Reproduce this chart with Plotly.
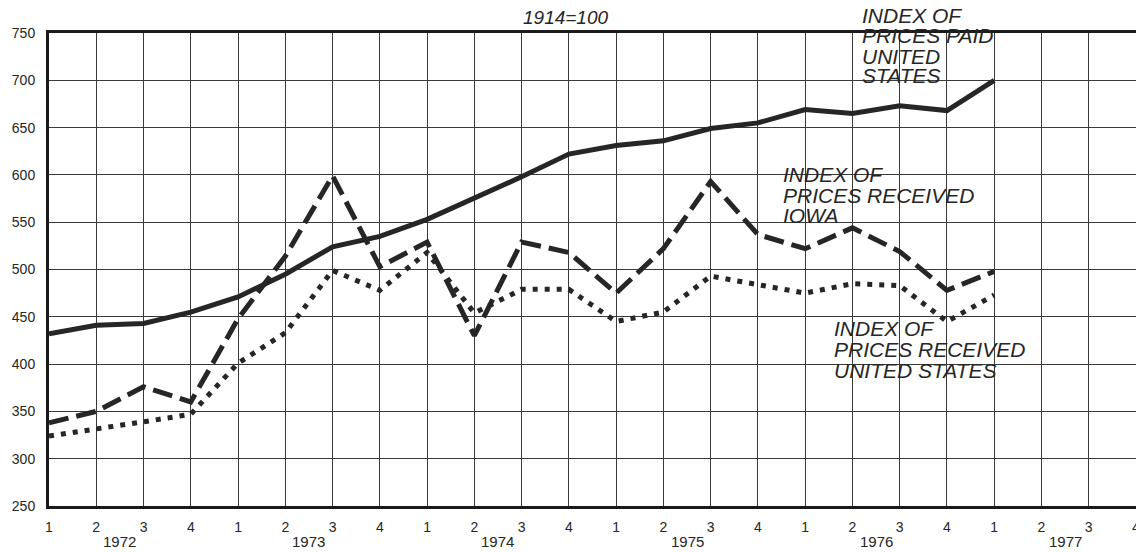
import plotly.graph_objects as go

# ---- data ----
years = ["1972", "1973", "1974", "1975", "1976", "1977"]
quarter_labels = ["1", "2", "3", "4"]
periods = [f"{y} Q{q}" for y in years for q in quarter_labels]  # 24 quarters on the axis

paid_us = [432, 441, 443, 455, 471, 495, 524, 535, 553, 575, 598, 622,
           631, 636, 649, 655, 669, 665, 673, 668, 700]
received_iowa = [338, 350, 376, 360, 448, 514, 599, 503, 529, 430, 529, 518,
                 475, 522, 593, 537, 522, 544, 519, 478, 498]
received_us = [324, 331, 339, 347, 401, 433, 499, 478, 518, 454, 479, 479,
               445, 455, 493, 484, 475, 485, 483, 445, 473]

y_ticks = [250, 300, 350, 400, 450, 500, 550, 600, 650, 700, 750]

INK = "#262626"
FONT = "Liberation Sans, Arial, sans-serif"

# page has an 8px body margin, so the figure is drawn 8px smaller
PLOT_L, PLOT_T, PLOT_W, PLOT_H = 46, 33, 1094, 473   # plot box in page pixels

fig = go.Figure()
fig.add_trace(go.Scatter(x=periods[:len(paid_us)], y=paid_us, mode="lines",
                         line=dict(color=INK, width=5), name="Index of prices paid, United States"))
fig.add_trace(go.Scatter(x=periods[:len(received_iowa)], y=received_iowa, mode="lines",
                         line=dict(color=INK, width=5, dash="20px,8px"), name="Index of prices received, Iowa"))
fig.add_trace(go.Scatter(x=periods[:len(received_us)], y=received_us, mode="lines",
                         line=dict(color=INK, width=5, dash="5px,7px"), name="Index of prices received, United States"))

annotations = []
# year labels under the quarter ticks
for i, yr in enumerate(years):
    annotations.append(dict(x=i * 4 + 1.5, y=-(541 - 506) / PLOT_H, xref="x", yref="paper", text=yr,
                            showarrow=False, xanchor="center", yanchor="middle",
                            font=dict(family=FONT, size=15, color=INK)))

# title note
annotations.append(dict(x=(566 - PLOT_L) / PLOT_W, y=(506 - 17) / PLOT_H, xref="paper", yref="paper",
                        text="1914=100", showarrow=False, xanchor="center", yanchor="middle",
                        font=dict(family=FONT, size=19, color=INK, style="italic")))

def label_lines(lines, x_px, centers_px):
    for txt, cy in zip(lines, centers_px):
        annotations.append(dict(x=(x_px - PLOT_L) / PLOT_W, y=(506 - cy) / PLOT_H, xref="paper", yref="paper",
                                text=txt, showarrow=False, xanchor="left", yanchor="middle",
                                font=dict(family=FONT, size=21, color=INK, style="italic")))

label_lines(["INDEX OF", "PRICES PAID", "UNITED", "STATES"], 862, [15, 36, 56, 75])
label_lines(["INDEX OF", "PRICES RECEIVED", "IOWA"], 783, [174, 195, 215])
label_lines(["INDEX OF", "PRICES RECEIVED", "UNITED STATES"], 834, [328, 349, 370])

fig.update_layout(
    width=1136, height=544,
    margin=dict(l=38, r=4, t=25, b=46),
    paper_bgcolor="white", plot_bgcolor="white",
    showlegend=False,
    font=dict(family=FONT, color=INK),
    annotations=annotations,
)
fig.update_xaxes(
    type="category", categoryorder="array", categoryarray=periods,
    range=[0, len(periods) - 1],
    tickmode="array", tickvals=periods, ticktext=[q for _ in years for q in quarter_labels],
    tickfont=dict(size=14, color=INK), ticks="", ticklabelstandoff=6,
    showgrid=True, gridcolor="#3a3a3a", gridwidth=1,
    showline=True, linecolor="#1a1a1a", linewidth=3, mirror=True, zeroline=False,
)
fig.update_yaxes(
    range=[250, 750], tickmode="array", tickvals=y_ticks,
    tickfont=dict(size=14, color=INK), ticks="", ticklabelstandoff=8,
    showgrid=True, gridcolor="#3a3a3a", gridwidth=1,
    showline=True, linecolor="#1a1a1a", linewidth=3, mirror=True, zeroline=False,
)

fig.write_html("out.html")
